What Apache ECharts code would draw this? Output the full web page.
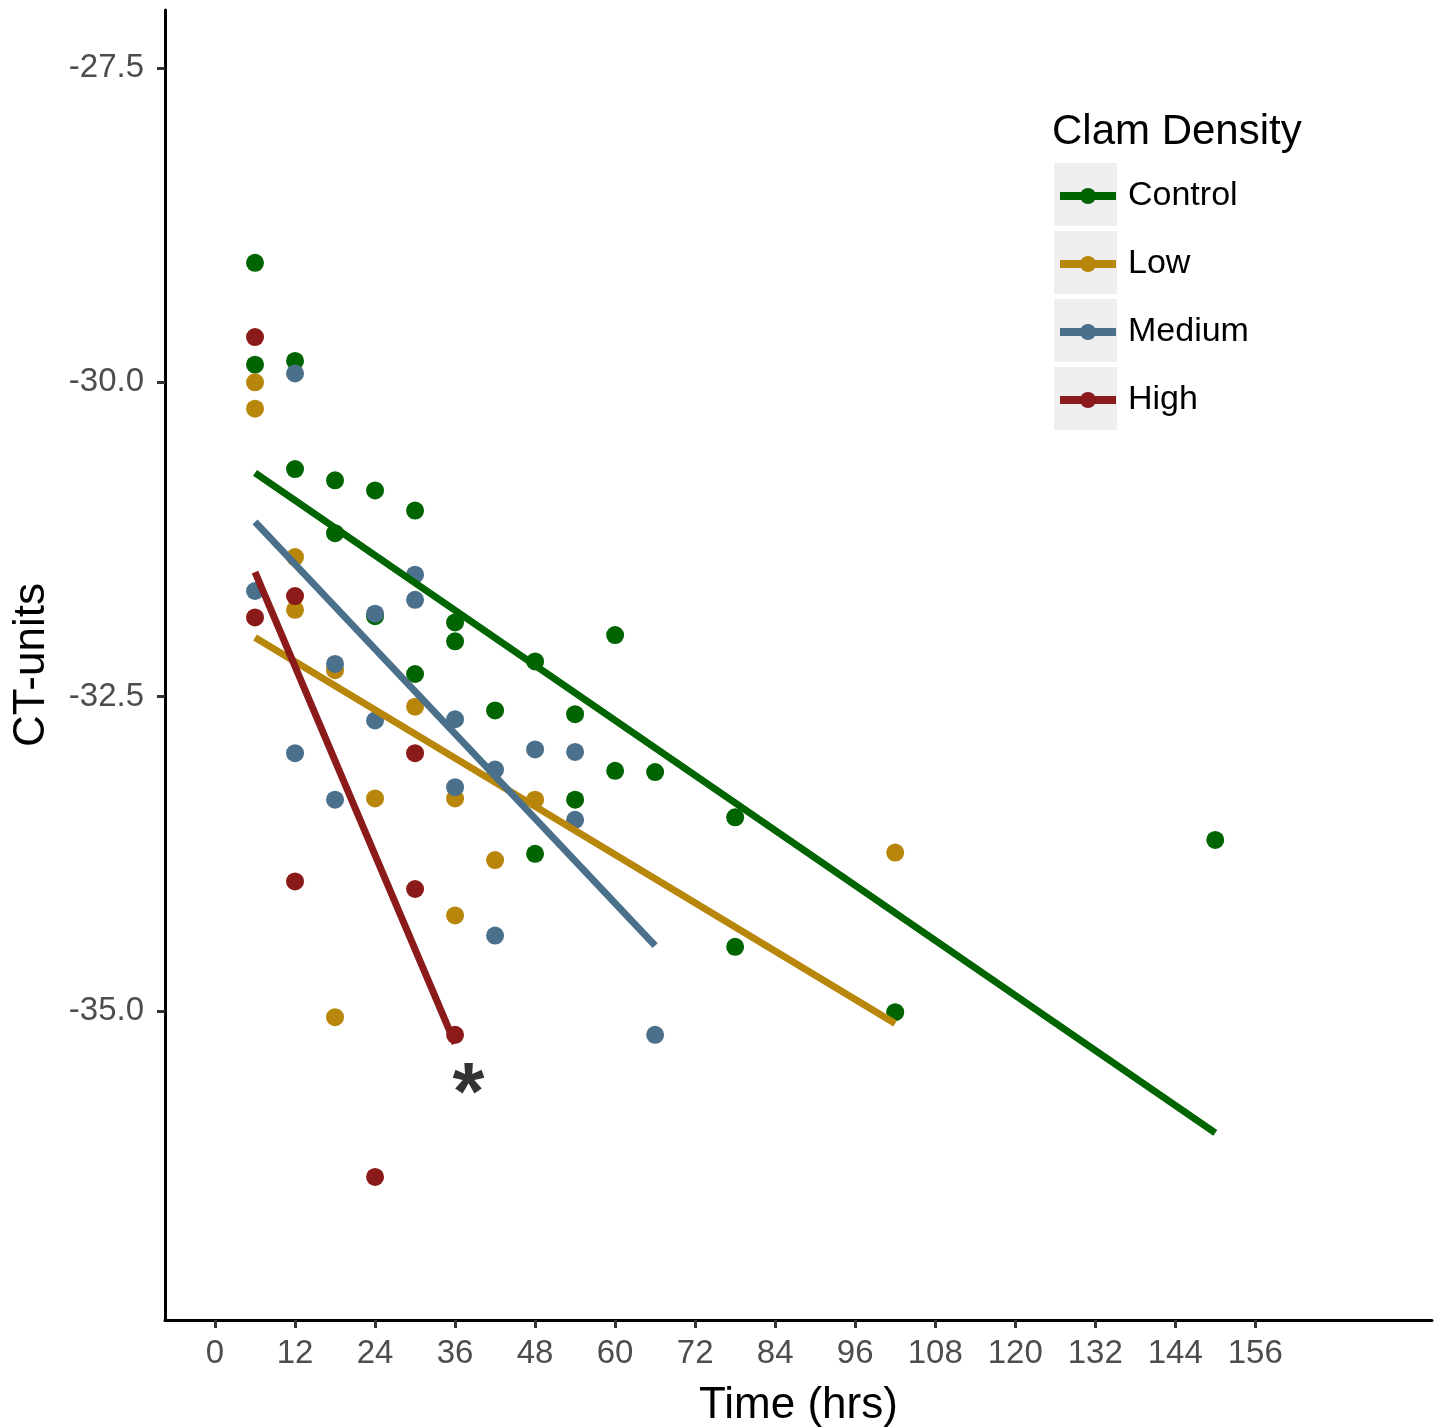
<!DOCTYPE html>
<html>
<head>
<meta charset="utf-8">
<script src="https://cdn.jsdelivr.net/npm/echarts@6/dist/echarts.min.js"></script>
<style>
  html, body { margin: 0; padding: 0; background: #fff; }
  #chart { width: 1440px; height: 1427px; }
</style>
</head>
<body>
<div id="chart"></div>
<script>
// 散点数据 [时间(hrs), CT-units]
var controlPts = [
  [6, -29.05], [6, -29.86], [12, -29.83], [12, -30.69], [18, -30.78], [18, -31.20],
  [24, -30.86], [24, -31.86], [30, -31.02], [30, -32.32], [36, -31.91], [36, -32.06],
  [42, -32.61], [48, -32.22], [48, -33.75], [54, -32.64], [54, -33.32], [60, -32.01],
  [60, -33.09], [66, -33.10], [78, -33.46], [78, -34.49], [102, -35.01], [150, -33.64]
];
var lowPts = [
  [6, -30.00], [6, -30.21], [12, -31.39], [12, -31.81], [18, -32.29], [18, -35.05],
  [24, -33.31], [30, -32.58], [36, -33.31], [36, -34.24], [42, -33.80], [48, -33.32],
  [102, -33.74]
];
var mediumPts = [
  [6, -31.66], [12, -29.93], [12, -32.95], [18, -32.24], [18, -33.32], [24, -31.84],
  [24, -32.69], [30, -31.53], [30, -31.73], [36, -32.68], [36, -33.22], [42, -33.08],
  [42, -34.40], [48, -32.92], [54, -32.94], [54, -33.48], [66, -35.19]
];
var highPts = [
  [6, -29.64], [6, -31.87], [12, -31.70], [12, -33.97], [24, -36.32], [30, -32.95],
  [30, -34.03], [36, -35.19]
];

// 回归线端点
var controlFit = [[6, -30.72], [150, -35.97]];
var lowFit = [[6, -32.03], [102, -35.10]];
var mediumFit = [[6, -31.11], [66, -34.48]];
var highFit = [[6, -31.51], [36, -35.26]];

// 显著性标记
var starMark = [[38, -35.68]];

var groups = ['Control', 'Low', 'Medium', 'High'];
var colors = ['#006400', '#B8860B', '#4A708B', '#8B1A1A'];
var xTicks = [0, 12, 24, 36, 48, 60, 72, 84, 96, 108, 120, 132, 144, 156];
var yTicks = [-35, -32.5, -30, -27.5];

var font = '"Liberation Sans", Arial, Helvetica, sans-serif';
var pts = [controlPts, lowPts, mediumPts, highPts];
var fits = [controlFit, lowFit, mediumFit, highFit];

var myChart = echarts.init(document.getElementById('chart'));

var series = [];
// 先放回归线, 图例图标取第一个同名系列
groups.forEach(function (g, i) {
    series.push({
        name: g,
        type: 'line',
        data: fits[i],
        showSymbol: false,
        symbol: 'circle',
        symbolSize: 17,
        z: 4,
        silent: true,
        lineStyle: { color: colors[i], width: 7 },
        itemStyle: { color: colors[i] },
        emphasis: { disabled: true }
    });
});
groups.forEach(function (g, i) {
    series.push({
        name: g,
        type: 'scatter',
        data: pts[i],
        symbolSize: 18,
        z: 3,
        itemStyle: { color: colors[i], opacity: 1 },
        emphasis: { disabled: true }
    });
});
series.push({
    name: 'star',
    type: 'scatter',
    data: starMark,
    symbolSize: 1,
    z: 5,
    silent: true,
    itemStyle: { color: 'rgba(0,0,0,0)' },
    label: {
        show: true,
        position: 'inside',
        formatter: '*',
        color: '#000',
        fontSize: 82,
        fontWeight: 'bold',
        fontFamily: font
    }
});

var option = {
    backgroundColor: '#fff',
    animation: false,
    title: {
        text: 'Clam Density',
        left: 1052,
        top: 111,
        padding: 0,
        textStyle: { fontSize: 42, fontWeight: 'normal', color: '#000', fontFamily: font }
    },
    graphic: [
        { type: 'rect', left: 1054, top: 163, shape: { width: 63, height: 63 }, style: { fill: '#EFEFEF' }, z: -1 },
        { type: 'rect', left: 1054, top: 231, shape: { width: 63, height: 63 }, style: { fill: '#EFEFEF' }, z: -1 },
        { type: 'rect', left: 1054, top: 299, shape: { width: 63, height: 63 }, style: { fill: '#EFEFEF' }, z: -1 },
        { type: 'rect', left: 1054, top: 367, shape: { width: 63, height: 63 }, style: { fill: '#EFEFEF' }, z: -1 }
    ],
    legend: {
        data: groups,
        orient: 'vertical',
        left: 1056,
        top: 179,
        padding: 0,
        itemWidth: 56,
        itemHeight: 20,
        itemGap: 34,
        selectedMode: false,
        lineStyle: { width: 8 },
        textStyle: { fontSize: 34, color: '#000', fontFamily: font, padding: [0, 0, 0, 7] }
    },
    grid: { left: 165, right: 8, top: 10, bottom: 107, containLabel: false, outerBoundsMode: 'none' },
    xAxis: {
        type: 'value',
        min: -7.5,
        max: 182.5,
        name: 'Time (hrs)',
        nameLocation: 'middle',
        nameGap: 64,
        nameTextStyle: { fontSize: 44, color: '#000', fontFamily: font },
        axisLine: { show: true, onZero: false, lineStyle: { color: '#000', width: 3 } },
        axisTick: { show: true, length: 8, customValues: xTicks, lineStyle: { color: '#333', width: 3 } },
        axisLabel: { customValues: xTicks, margin: 17, fontSize: 33, color: '#4D4D4D', fontFamily: font },
        splitLine: { show: false }
    },
    yAxis: {
        type: 'value',
        min: -37.458,
        max: -27.039,
        name: 'CT-units',
        nameLocation: 'middle',
        nameGap: 111,
        nameTextStyle: { fontSize: 44, color: '#000', fontFamily: font },
        axisLine: { show: true, onZero: false, lineStyle: { color: '#000', width: 3 } },
        axisTick: { show: true, length: 8, customValues: yTicks, lineStyle: { color: '#333', width: 3 } },
        axisLabel: {
            customValues: yTicks,
            margin: 21,
            fontSize: 33,
            color: '#4D4D4D',
            fontFamily: font,
            formatter: function (v) { return v.toFixed(1); }
        },
        splitLine: { show: false }
    },
    series: series
};

myChart.setOption(option);
</script>
</body>
</html>
